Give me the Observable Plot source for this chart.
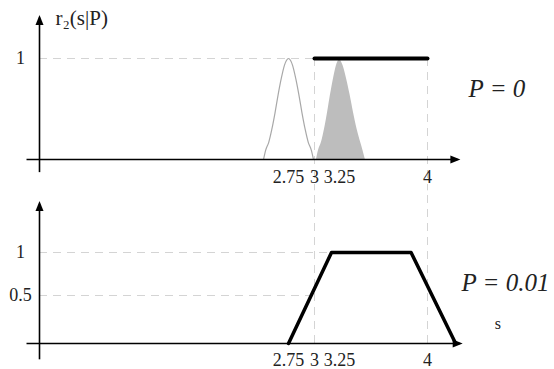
<!DOCTYPE html>
<html><head><meta charset="utf-8">
<script src="https://cdn.jsdelivr.net/npm/d3@7"></script>
<script src="https://cdn.jsdelivr.net/npm/@observablehq/plot@0.6"></script>
<style>
body{margin:0;background:#fff}
#chart{position:relative;width:554px;height:369px}
#chart svg{position:absolute;left:0}
</style>
</head><body><div id="chart"></div>
<script>
// ---- data ----
const ticksS = [2.75, 3, 3.25, 4];
const ticksTop = [1];
const ticksBottom = [0.5, 1];
// P = 0 : two bell-shaped membership functions and the support line
const emptyBellS = [2.51, 2.53, 2.56, 2.59, 2.62, 2.65, 2.68, 2.71, 2.73, 2.75, 2.77, 2.79, 2.82, 2.85, 2.88, 2.91, 2.94, 2.97, 2.99];
const emptyBellR = [0, 0.09, 0.17, 0.30, 0.46, 0.64, 0.80, 0.93, 0.98, 1, 0.98, 0.93, 0.80, 0.64, 0.46, 0.30, 0.17, 0.09, 0];
const filledBellS = [3.02, 3.04, 3.07, 3.10, 3.13, 3.16, 3.19, 3.22, 3.24, 3.25, 3.26, 3.28, 3.31, 3.34, 3.37, 3.40, 3.43, 3.45, 3.47];
const filledBellR = [0, 0.09, 0.17, 0.30, 0.46, 0.64, 0.80, 0.93, 0.98, 1, 0.98, 0.93, 0.80, 0.64, 0.46, 0.30, 0.17, 0.09, 0];
const supportS = [3, 4];
const supportR = [1, 1];
// P = 0.01 : trapezoid
const trapS = [2.75, 3.17, 3.86, 4.24];
const trapR = [0, 1, 1, 0];
const labelTop = "P = 0";
const labelBottom = "P = 0.01";
const yTitle = "r\u2082(s|P)";
const xTitle = "s";

// ---- helpers ----
const zip = (S, R) => S.map((s, i) => ({s, r: R[i]}));
const upTri = {draw(c, size) { const k = Math.sqrt(size / Math.PI); c.moveTo(0, 0); c.lineTo(-0.8 * k, 2 * k); c.lineTo(0.8 * k, 2 * k); c.closePath(); }};
const rightTri = {draw(c, size) { const k = Math.sqrt(size / Math.PI); c.moveTo(0, 0); c.lineTo(-2 * k, -0.8 * k); c.lineTo(-2 * k, 0.8 * k); c.closePath(); }};
const FONT = "'Liberation Serif', 'Times New Roman', serif";
const xScale = {type: "linear", domain: [0, 2.5, 2.75, 3, 3.25, 4], range: [39, 262, 288, 314, 339, 427], axis: null};
const grid = {stroke: "#d4d4d4", strokeWidth: 1, strokeDasharray: "8,6"};
const txt = {fill: "#222", fontFamily: FONT, fontVariant: "normal"};

// ---- top panel (P = 0) ----
const topPanel = Plot.plot({
  width: 554, height: 190,
  style: {fontFamily: FONT, background: "transparent", overflow: "visible"},
  x: xScale,
  y: {type: "linear", domain: [0, 1], range: [159, 58], axis: null},
  marks: [
    Plot.ruleY(ticksTop, {x1: 0, x2: supportS[0], ...grid}),
    Plot.ruleX([supportS[0], supportS[1]], {y1: 1, y2: -0.31, ...grid}),
    Plot.areaY(zip(filledBellS, filledBellR), {x: "s", y: "r", fill: "#bdbdbd", curve: "monotone-x"}),
    Plot.line(zip(emptyBellS, emptyBellR), {x: "s", y: "r", stroke: "#a8a8a8", strokeWidth: 1.2, curve: "monotone-x"}),
    Plot.line(zip(supportS, supportR), {x: "s", y: "r", stroke: "black", strokeWidth: 4}),
    Plot.ruleY([0], {x1: -0.14, x2: 4.26, stroke: "black", strokeWidth: 1.6}),
    Plot.ruleX([0], {y1: -0.13, y2: 1.40, stroke: "black", strokeWidth: 1.6}),
    Plot.dot([{s: 4.28, r: 0}], {x: "s", y: "r", symbol: rightTri, r: 5, fill: "black", stroke: null}),
    Plot.dot([{s: 0, r: 1.43}], {x: "s", y: "r", symbol: upTri, r: 5, fill: "black", stroke: null}),
    Plot.text(ticksS, {x: d => d, y: 0, dy: 18, fontSize: 18, ...txt}),
    Plot.text(ticksTop, {x: 0, y: d => d, dx: -19, fontSize: 18, ...txt}),
    Plot.text([yTitle], {x: 0.18, y: 1.40, textAnchor: "start", fontSize: 21, ...txt}),
    Plot.text([labelTop], {x: 4.35, y: 0.70, textAnchor: "start", fontSize: 25, fontStyle: "italic", ...txt})
  ]
});

// ---- bottom panel (P = 0.01) ----
const bottomPanel = Plot.plot({
  width: 554, height: 179,
  style: {fontFamily: FONT, background: "transparent", overflow: "visible"},
  x: xScale,
  y: {type: "linear", domain: [0, 0.5, 1], range: [153, 105, 62], axis: null},
  marks: [
    Plot.ruleY(ticksBottom, {x1: 0, x2: r => trapS[0] + r * (trapS[1] - trapS[0]), ...grid}),
    Plot.ruleX([supportS[0], supportS[1]], {y1: 0, y2: 1.75, ...grid}),
    Plot.line(zip(trapS, trapR), {x: "s", y: "r", stroke: "black", strokeWidth: 3.5}),
    Plot.ruleY([0], {x1: -0.14, x2: 4.28, stroke: "black", strokeWidth: 1.6}),
    Plot.ruleX([0], {y1: -0.17, y2: 1.56, stroke: "black", strokeWidth: 1.6}),
    Plot.dot([{s: 4.30, r: 0}], {x: "s", y: "r", symbol: rightTri, r: 5, fill: "black", stroke: null}),
    Plot.dot([{s: 0, r: 1.60}], {x: "s", y: "r", symbol: upTri, r: 5, fill: "black", stroke: null}),
    Plot.text(ticksS, {x: d => d, y: 0, dy: 17, fontSize: 18, ...txt}),
    Plot.text(ticksBottom, {x: 0, y: d => d, dx: -19, fontSize: 18, ...txt}),
    Plot.text([xTitle], {x: 4.60, y: 0.2, fontSize: 16, ...txt}),
    Plot.text([labelBottom], {x: 4.29, y: 0.64, textAnchor: "start", fontSize: 25, fontStyle: "italic", ...txt})
  ]
});

topPanel.style.top = "0px";
bottomPanel.style.top = "190px";
document.getElementById("chart").append(topPanel, bottomPanel);
</script>
</body></html>
